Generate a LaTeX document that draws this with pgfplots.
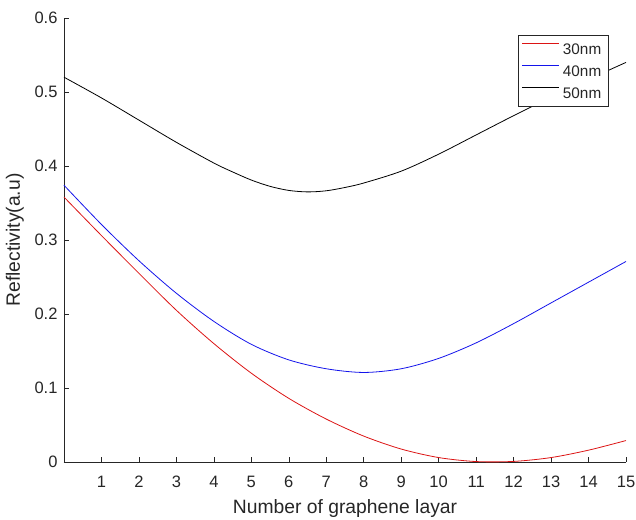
\documentclass[border=0pt]{standalone}
\usepackage{pgfplots}
\pgfplotsset{compat=1.18}
\usepackage{fontspec}
\setmainfont{Liberation Sans}
\definecolor{axgray}{RGB}{38,38,38}
\definecolor{mred}{RGB}{220,20,20}
\definecolor{mblue}{RGB}{20,20,235}
\begin{document}
\begin{tikzpicture}
\path[use as bounding box] (-64pt,-57pt) rectangle (572pt,462pt);
\begin{axis}[
    at={(0pt,0pt)}, anchor=south west,
    scale only axis, width=562pt, height=444pt,
    xmin=0, xmax=15, ymin=0, ymax=0.6,
    clip=false,
    axis x line*=bottom, axis y line*=left,
    axis line style={axgray, line width=0.6pt},
    xtick={1,2,3,4,5,6,7,8,9,10,11,12,13,14,15},
    ytick={0,0.1,0.2,0.3,0.4,0.5,0.6},
    tick align=inside, major tick length=5pt,
    tick style={axgray, line width=0.6pt},
    /pgf/number format/assume math mode=true,
    yticklabel style={/pgf/number format/fixed, /pgf/number format/precision=1,
        anchor=east, xshift=-3pt},
    xticklabel style={anchor=base, yshift=-25pt},
    ticklabel style={font=\fontsize{16.5}{19}\selectfont, text=axgray},
    xlabel={Number of graphene layar},
    ylabel={Reflectivity(a.u)},
    label style={font=\fontsize{19.3}{23}\selectfont, text=axgray},
    xlabel style={at={(axis description cs:0.5,0)}, anchor=base, yshift=-51pt},
    ylabel style={at={(axis description cs:-0.0872,0.5)}, anchor=center},
    legend cell align=left,
    legend image code/.code={\draw[#1, line width=1pt] (0pt,5.5pt) -- (37pt,5.5pt);},
    legend style={at={(1,1)}, anchor=north east, xshift=-18pt, yshift=-17pt,
        draw=axgray, line width=0.5pt, fill=white,
        font=\fontsize{15.3}{18}\selectfont, text=axgray,
        inner xsep=3.5pt, inner ysep=2.25pt, row sep=0pt,
        nodes={inner sep=3pt, text height=13.5pt, text depth=2.5pt}},
]

\addplot[color=mred, line width=0.8pt, smooth] coordinates {
    (0,0.358) (1,0.306) (2,0.255) (3,0.205) (4,0.160) (5,0.120) (6,0.086)
    (7,0.058) (8,0.035) (9,0.0175) (10,0.006) (11,0.0006)
    (12,0.0008) (13,0.006) (14,0.016) (15,0.029)
};

\addplot[color=mblue, line width=0.8pt, smooth] coordinates {
    (0,0.374) (1,0.321) (2,0.272) (3,0.228) (4,0.190) (5,0.159) (6,0.138)
    (7,0.126) (8,0.121) (9,0.126) (10,0.140) (11,0.161) (12,0.187)
    (13,0.215) (14,0.243) (15,0.271)
};

\addplot[color=black, line width=0.8pt, smooth] coordinates {
    (0,0.520) (1,0.492) (2,0.462) (3,0.432) (4,0.404) (4.5,0.392) (5,0.381)
    (5.5,0.3725) (6,0.367) (6.5,0.365) (7,0.3665) (7.5,0.371) (8,0.377)
    (9,0.393) (10,0.416) (11,0.442)
    (12,0.468) (13,0.493) (14,0.517) (15,0.540)
};

\legend{30nm, 40nm, 50nm}
\end{axis}
\end{tikzpicture}
\end{document}
